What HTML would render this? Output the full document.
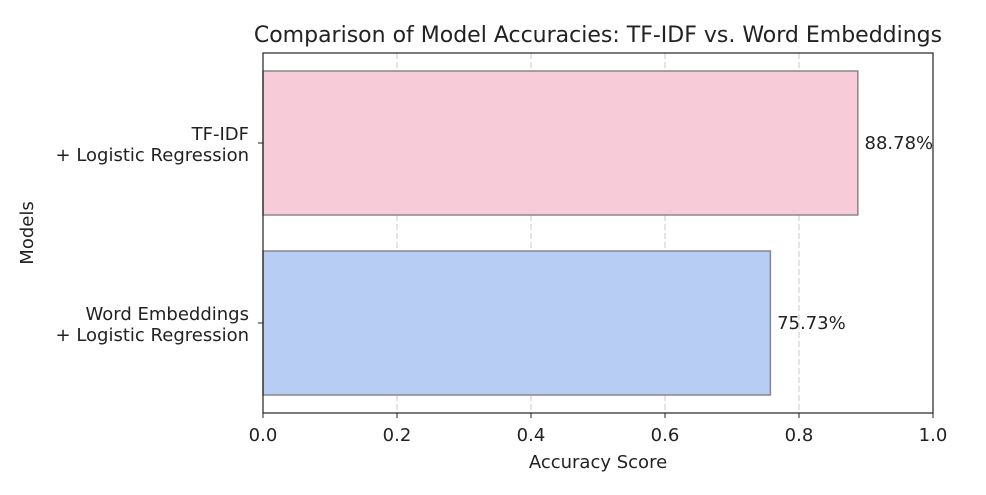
<!DOCTYPE html>
<html><head><meta charset="utf-8"><style>
body{margin:0;background:#fff;}
svg text{font-family:"DejaVu Sans","Liberation Sans",sans-serif;fill:#222;}
</style></head><body>
<svg id="chart" width="986" height="490">
<text x="598" y="42" font-size="22" text-anchor="middle">Comparison of Model Accuracies: TF-IDF vs. Word Embeddings</text>
<g id="grid"></g><g id="bars"></g><g id="axes"></g>
<text x="598" y="468" font-size="18" text-anchor="middle">Accuracy Score</text>
<text transform="translate(33,233) rotate(-90)" font-size="18" text-anchor="middle">Models</text>
</svg>
<script>
const categories=[["Word Embeddings","+ Logistic Regression"],["TF-IDF","+ Logistic Regression"]];
const values=[0.7573,0.8878];
const labels=["75.73%","88.78%"];
const colors=["#b8cdf4","#f7cbd8"];
const xTicks=[0,0.2,0.4,0.6,0.8,1.0];
const L=263,R=933,T=53,B=413;
const xs=v=>L+(R-L)*v;
const ys=v=>B-(B-T)*(v+0.5)/2;
const NS="http://www.w3.org/2000/svg";
function mk(p,t,a){const e=document.createElementNS(NS,t);for(const k in a)e.setAttribute(k,a[k]);p.appendChild(e);return e;}
const grid=document.getElementById('grid'),bars=document.getElementById('bars'),axes=document.getElementById('axes');
xTicks.forEach(t=>{
 const g=mk(grid,'line',{x1:xs(t),x2:xs(t),y1:T,y2:B,stroke:'#c8c8c8','stroke-dasharray':'6,3','stroke-width':1});
 
 
 const tk=mk(axes,'line',{x1:xs(t),x2:xs(t),y1:B,y2:B+5,stroke:'#222'});
 
 
 const tx=mk(axes,'text',{x:xs(t),y:B+28,'font-size':18,'text-anchor':'middle'});
 tx.textContent=t.toFixed(1);
 
 
});
values.forEach((v,i)=>{
 const c=ys(i),h=(ys(0)-ys(1))*0.8;
 const r=mk(bars,'rect',{x:L,y:c-h/2,width:xs(v)-L,height:h,fill:colors[i],stroke:'#888','stroke-width':1.5});
 
 
 const lt=mk(bars,'text',{x:xs(v+0.01),y:c+6,'font-size':18});
 lt.textContent=labels[i];
 
 
 const tk=mk(axes,'line',{x1:L-5,x2:L,y1:c,y2:c,stroke:'#222'});
 
 
 const cl=mk(axes,'text',{x:L-14,y:c-3,'font-size':18,'text-anchor':'end'});
 
 
 categories[i].forEach((s,j)=>{const ts=mk(cl,'tspan',{x:L-14,dy:j?21:0});ts.textContent=s;});
});
const fr=mk(axes,'rect',{x:L,y:T,width:R-L,height:B-T,fill:'none',stroke:'#222','stroke-width':1.2});


</script>
</body></html>
